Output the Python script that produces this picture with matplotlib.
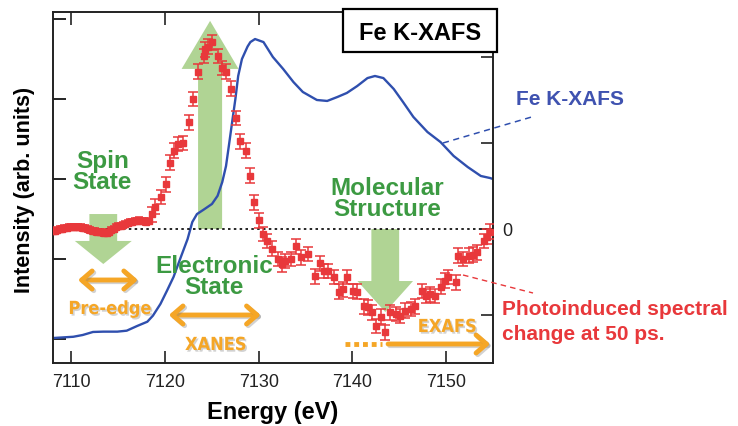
import numpy as np
import matplotlib
matplotlib.use('Agg')
import matplotlib.pyplot as plt
import matplotlib.patheffects as pe
from matplotlib import font_manager as fm
from matplotlib.patches import Rectangle
from matplotlib.lines import Line2D

plt.rcParams['font.family'] = ['Liberation Sans', 'DejaVu Sans']

# the orange labels use a condensed bold face if one is installed
narrow_fp = None
for f in fm.fontManager.ttflist:
    if 'Sans' in f.name and f.stretch in ('condensed', 'semi-condensed') and f.weight in (700, 'bold') \
            and f.style == 'normal':
        narrow_fp = fm.FontProperties(fname=f.fname)
        break
if narrow_fp is None and 'Liberation Sans Narrow' in {f.name for f in fm.fontManager.ttflist}:
    narrow_fp = fm.FontProperties(family='Liberation Sans Narrow', weight='bold')

### Fe K-XAFS spectrum (left axis, arb. units) ###
xafs_e = [7108.0, 7110.2, 7111.2, 7112.3, 7113.4, 7114.9, 7115.9, 7117.0, 7118.1,
          7118.7, 7119.5, 7120.2, 7120.9, 7121.6, 7122.4, 7122.9, 7123.4, 7124.1,
          7125.0, 7125.6, 7126.1, 7126.5, 7126.8, 7127.2, 7127.5, 7127.8, 7128.2,
          7128.8, 7129.1, 7129.6, 7130.5, 7131.5, 7132.6, 7133.7, 7134.7, 7136.2,
          7137.3, 7138.4, 7139.4, 7140.5, 7141.6, 7142.4, 7143.3, 7144.4, 7145.4,
          7146.5, 7148.0, 7149.4, 7150.8, 7152.3, 7153.7, 7154.7, 7155.0]
xafs_i = [0.006, 0.014, 0.025, 0.044, 0.046, 0.046, 0.052, 0.081, 0.108,
          0.146, 0.219, 0.302, 0.388, 0.50, 0.625, 0.731, 0.781, 0.808,
          0.844, 0.895, 0.981, 1.081, 1.206, 1.375, 1.50, 1.644, 1.75,
          1.828, 1.856, 1.875, 1.856, 1.763, 1.688, 1.606, 1.544, 1.494,
          1.488, 1.513, 1.538, 1.581, 1.631, 1.644, 1.631, 1.563, 1.481,
          1.388, 1.294, 1.231, 1.144, 1.075, 1.019, 1.006, 1.0]

### photoinduced change at 50 ps (right axis) ###
# pre-edge: fine steps, small errors
pre_e = [7108.0, 7108.25, 7108.5, 7108.75, 7109.0, 7109.25, 7109.5, 7109.75,
         7110.0, 7110.25, 7110.5, 7110.75, 7111.0, 7111.25, 7111.5, 7111.75,
         7112.0, 7112.25, 7112.5, 7112.75, 7113.0, 7113.25, 7113.5, 7113.75,
         7114.0, 7114.25, 7114.5, 7114.75, 7115.0, 7115.25, 7115.5, 7115.75,
         7116.0, 7116.25, 7116.5, 7116.75, 7117.0, 7117.25, 7117.5, 7117.75,
         7118.0, 7118.25]
pre_d = [-0.02, -0.02, -0.01, -0.005, 0.0, 0.01, 0.015, 0.02,
         0.02, 0.025, 0.02, 0.02, 0.02, 0.015, 0.01, 0.0,
         -0.01, -0.02, -0.025, -0.03, -0.035, -0.04, -0.05, -0.045,
         -0.03, -0.01, 0.0, 0.02, 0.03, 0.04, 0.05, 0.06,
         0.07, 0.08, 0.085, 0.09, 0.095, 0.1, 0.095, 0.09,
         0.085, 0.09]
pre_err = 0.035

# edge and above
diff_e = [7118.6, 7118.9, 7119.6, 7120.1, 7120.5, 7120.9, 7121.4, 7121.9, 7122.6,
          7123.0, 7123.5, 7124.1, 7124.3, 7124.6, 7125.0, 7125.6, 7126.1, 7126.5,
          7127.0, 7127.6, 7128.0, 7128.6, 7129.1, 7129.5, 7130.0, 7130.5, 7130.9,
          7131.4, 7132.0, 7132.5, 7132.8, 7133.4, 7134.0, 7134.5, 7135.2, 7136.0,
          7136.5, 7137.0, 7137.4, 7138.0, 7138.6, 7139.0, 7139.4, 7140.1, 7140.5,
          7141.2, 7141.7, 7142.1, 7142.5, 7143.0, 7143.5, 7144.0, 7144.6, 7145.1,
          7145.6, 7146.2, 7146.7, 7147.4, 7147.9, 7148.3, 7148.8, 7149.4, 7149.9,
          7150.2, 7151.0, 7151.3, 7151.8, 7152.4, 7152.9, 7153.3, 7154.0, 7154.4,
          7154.7]
diff_d = [0.17, 0.26, 0.37, 0.52, 0.77, 0.91, 0.99, 1.00, 1.24,
          1.51, 1.83, 2.01, 2.09, 2.12, 2.17, 2.01, 1.87, 1.83,
          1.63, 1.29, 1.02, 0.91, 0.62, 0.31, 0.10, -0.06, -0.14,
          -0.23, -0.35, -0.41, -0.37, -0.35, -0.20, -0.33, -0.29, -0.55,
          -0.40, -0.49, -0.49, -0.56, -0.73, -0.70, -0.56, -0.72, -0.73,
          -0.90, -0.91, -0.97, -1.13, -1.02, -1.20, -0.97, -0.99, -1.01,
          -0.95, -0.93, -0.90, -0.72, -0.78, -0.76, -0.78, -0.67, -0.60,
          -0.56, -0.62, -0.31, -0.35, -0.31, -0.30, -0.27, -0.14, -0.09,
          -0.03]
diff_err = 0.085

xticks = [7110, 7120, 7130, 7140, 7150]

blue = '#2f4fae'
red = '#e8383b'
green_arrow = '#b0d494'
green_text = '#3c9a42'
orange = '#f5a626'

W, H = 738, 427
def fx(x):
    return x / W
def fy(y):
    return 1 - y / H

fig = plt.figure(figsize=(W / 100, H / 100), dpi=100)
ax = fig.add_axes([fx(52.7), fy(364), (493 - 52.7) / W, (364 - 13) / H])
ax2 = ax.twinx()

ax.set_xlim(7108, 7155)
ax.set_ylim(-0.15, 2.044)
ax2.set_ylim(-1.558, 2.523)

### green arrows (behind the data) ###
def block_arrow(x, y0, y1, tail, hw, hl):
    ax.annotate('', xy=(x, y1), xytext=(x, y0),
                xycoords=ax2.transData, textcoords=ax2.transData,
                arrowprops=dict(arrowstyle='simple,head_length=%g,head_width=%g,tail_width=%g' % (hl, hw, tail),
                                mutation_scale=1, fc=green_arrow, ec='none', lw=0,
                                shrinkA=0, shrinkB=0),
                zorder=1, annotation_clip=False)

block_arrow(7124.8, 0.0, 2.42, 17.3, 41, 34.6)
block_arrow(7113.4, 0.174, -0.407, 20, 41, 16.6)
block_arrow(7143.5, 0.0, -0.965, 20, 40, 22.3)

ax.plot(xafs_e, xafs_i, color=blue, lw=1.7, zorder=2)

ax2.axhline(0, color='k', lw=1.2, ls=(0, (1.5, 2)), zorder=2)
ax2.errorbar(pre_e, pre_d, yerr=pre_err, fmt='s', color=red, ms=4, capsize=3,
             elinewidth=1.1, capthick=1.1, zorder=3)
ax2.errorbar(diff_e, diff_d, yerr=diff_err, fmt='s', color=red, ms=4.5, capsize=3.5,
             elinewidth=1.1, capthick=1.1, zorder=3)

### orange ranges ###
shadow = [pe.SimpleLineShadow(offset=(1.2, -1.2), shadow_color='gray', alpha=0.35), pe.Normal()]
tshadow = [pe.withSimplePatchShadow(offset=(1.2, -1.2), shadow_rgbFace='gray', alpha=0.35)]
for x0, x1, y, style in [(7110.7, 7117.1, -0.593, '<->'),
                         (7120.4, 7130.2, -1.0, '<->'),
                         (7143.8, 7154.7, -1.337, '->')]:
    ax2.annotate('', xy=(x1, y), xytext=(x0, y),
                 arrowprops=dict(arrowstyle=style + ',head_length=0.75,head_width=0.65',
                                 mutation_scale=10, color=orange, lw=3.5,
                                 shrinkA=0, shrinkB=0, path_effects=shadow),
                 zorder=4, annotation_clip=False)
ax2.plot([7139.2, 7143.2], [-1.337, -1.337], color=orange, lw=3.5, ls=(0, (1, 0.8)),
         solid_capstyle='butt', zorder=4)

if narrow_fp is not None:
    ofont = narrow_fp.copy()
    ofont.set_size(13)
else:
    ofont = fm.FontProperties(family='Liberation Sans', weight='bold', size=12.5)
otext = dict(color=orange, fontproperties=ofont, ha='center', va='baseline',
             path_effects=tshadow, zorder=5)
ax2.text(7114.1, -0.988, 'Pre-edge', **otext)
ax2.text(7125.4, -1.407, 'XANES', **otext)
ax2.text(7150.1, -1.198, 'EXAFS', **otext)

gtext = dict(color=green_text, fontsize=17.5, fontweight='bold', ha='center', va='center',
             linespacing=0.9, zorder=5)
ax2.text(7113.3, 0.674, 'Spin\nState', **gtext)
ax2.text(7125.25, -0.547, 'Electronic\nState', **gtext)
ax2.text(7143.7, 0.36, 'Molecular\nStructure', **gtext)

### axes styling ###
for a in (ax, ax2):
    for s in a.spines.values():
        s.set_linewidth(1.2)
        s.set_color('#222222')
ax.set_xticks(xticks)
ax.set_xticklabels([str(t) for t in xticks])
ax.tick_params(axis='x', direction='in', length=9, width=1.2, top=True, pad=7,
               labelsize=13, colors='#222222')
ax.set_yticks([0, 0.5, 1.0, 1.5, 2.0])
ax.tick_params(axis='y', direction='in', length=9, width=1.2, labelleft=False)
ax2.set_yticks([-1, 0, 1, 2])
ax2.set_yticklabels(['', '0', '', ''])
ax2.tick_params(axis='y', direction='in', length=9, width=1.2, pad=7, labelsize=13,
                colors='#222222')

fig.text(fx(25), fy(190), 'Intensity (arb. units)', rotation=90, ha='center', va='center',
         fontsize=15.5, fontweight='bold')
fig.text(fx(273), fy(419), 'Energy (eV)', ha='center', va='baseline', fontsize=17,
         fontweight='bold')

### labels outside the axes ###
fig.add_artist(Rectangle((fx(343), fy(53)), 154 / W, 43 / H, transform=fig.transFigure,
                         fc='white', ec='black', lw=1.6, zorder=3))
fig.text(fx(420), fy(40), 'Fe K-XAFS', ha='center', va='baseline', fontsize=17,
         fontweight='bold', zorder=4)

fig.add_artist(Line2D([fx(443), fx(535)], [fy(144), fy(117)], transform=fig.transFigure,
                      color=blue, lw=1.1, ls=(0, (4, 3)), zorder=3))
fig.text(fx(516), fy(105), 'Fe K-XAFS', ha='left', va='baseline', fontsize=15,
         fontweight='bold', color='#3f52b0')

fig.add_artist(Line2D([fx(463), fx(533)], [fy(276), fy(294)], transform=fig.transFigure,
                      color=red, lw=1.0, ls=(0, (4, 3)), zorder=3))
fig.text(fx(502), fy(315), 'Photoinduced spectral', ha='left', va='baseline', fontsize=15,
         fontweight='bold', color=red)
fig.text(fx(502), fy(340), 'change at 50 ps.', ha='left', va='baseline', fontsize=15,
         fontweight='bold', color=red)

fig.savefig('out.png', dpi=100)
